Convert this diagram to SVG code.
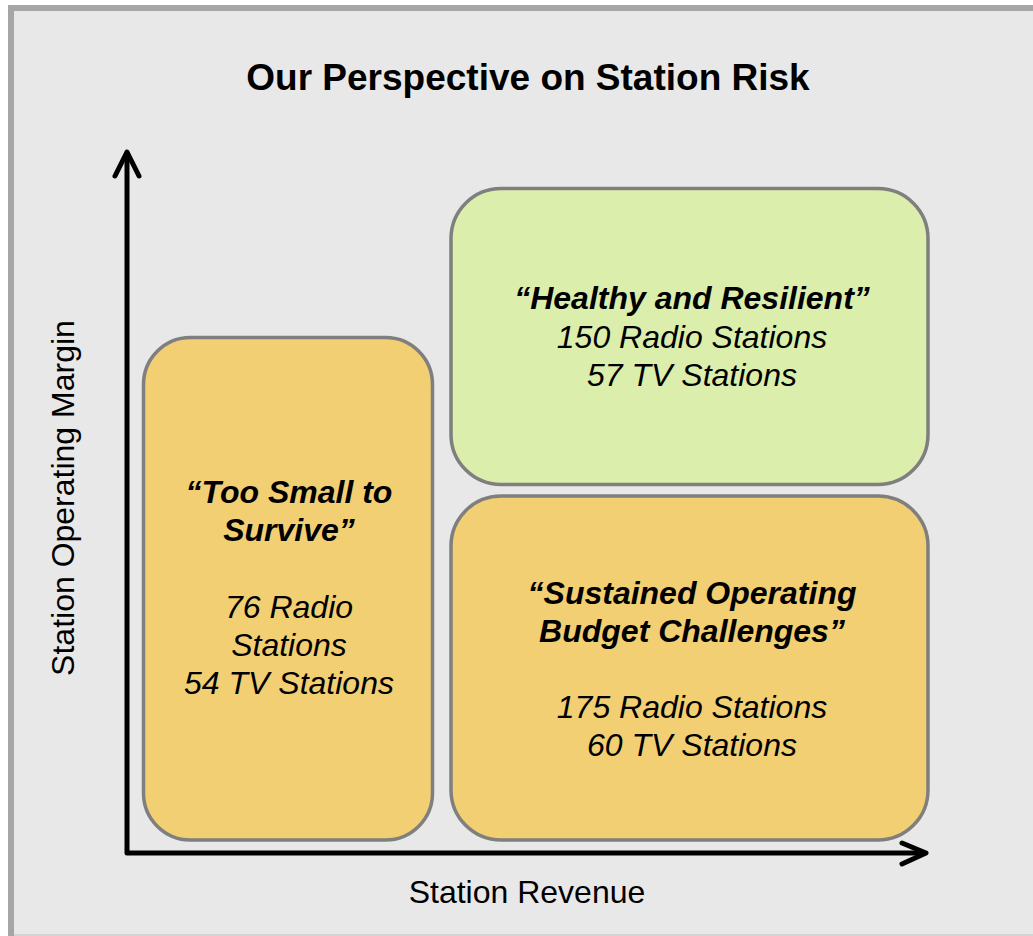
<svg xmlns="http://www.w3.org/2000/svg" width="1033" height="936" viewBox="0 0 1033 936">
  <defs>
    <style>
      .t { font-family: "Liberation Sans", Arial, sans-serif; fill: #000; text-anchor: middle; }
      .bi { font-size: 32px; font-weight: bold; font-style: italic; }
      .i { font-size: 32px; font-style: italic; }
      .r { font-size: 32px; }
      .orange { fill: #f2cf72; stroke: #7f7f7f; stroke-width: 3.5; }
      .green { fill: #dbeeab; stroke: #7f7f7f; stroke-width: 3.5; }
      .axis { stroke: #000; stroke-width: 5; fill: none; stroke-linecap: round; stroke-linejoin: round; }
    </style>
  </defs>
  <rect x="0" y="0" width="1033" height="936" fill="#ffffff"/>
  <rect x="8" y="5" width="1040" height="931" fill="#a6a6a6"/>
  <rect x="14" y="11" width="1030" height="923" fill="#e8e8e8"/>
  <rect x="14" y="934" width="1030" height="2" fill="#d4d4d4"/>

  <text class="t" x="528" y="90" style="font-size:37px;font-weight:bold">Our Perspective on Station Risk</text>

  <g id="node-too-small">
    <rect class="orange" x="143.5" y="337.5" width="289" height="502.5" rx="47" ry="47"/>
    <text class="t bi" x="289" y="503">“Too Small to</text>
    <text class="t bi" x="289" y="541">Survive”</text>
    <text class="t i" x="289" y="618">76 Radio</text>
    <text class="t i" x="289" y="656">Stations</text>
    <text class="t i" x="289" y="694">54 TV Stations</text>
  </g>

  <g id="node-healthy">
    <rect class="green" x="451" y="188.5" width="477" height="296" rx="50" ry="50"/>
    <text class="t bi" x="692" y="309">“Healthy and Resilient”</text>
    <text class="t i" x="692" y="348">150 Radio Stations</text>
    <text class="t i" x="692" y="386">57 TV Stations</text>
  </g>

  <g id="node-sustained">
    <rect class="orange" x="451" y="496" width="477" height="344" rx="50" ry="50"/>
    <text class="t bi" x="692" y="604">“Sustained Operating</text>
    <text class="t bi" x="692" y="642">Budget Challenges”</text>
    <text class="t i" x="692" y="718">175 Radio Stations</text>
    <text class="t i" x="692" y="756">60 TV Stations</text>
  </g>

  <g id="connectors">
    <path class="axis" d="M127 153 L127 853 L924 853" stroke-linecap="butt"/>
    <path class="axis" d="M115 176 L127 152 L139 176"/>
    <path class="axis" d="M902 843 L926 853 L902 864"/>
  </g>

  <g id="axis-labels">
    <text class="t r" x="527" y="903">Station Revenue</text>
    <text class="t r" x="0" y="0" transform="translate(74 498) rotate(-90)">Station Operating Margin</text>
  </g>
</svg>
